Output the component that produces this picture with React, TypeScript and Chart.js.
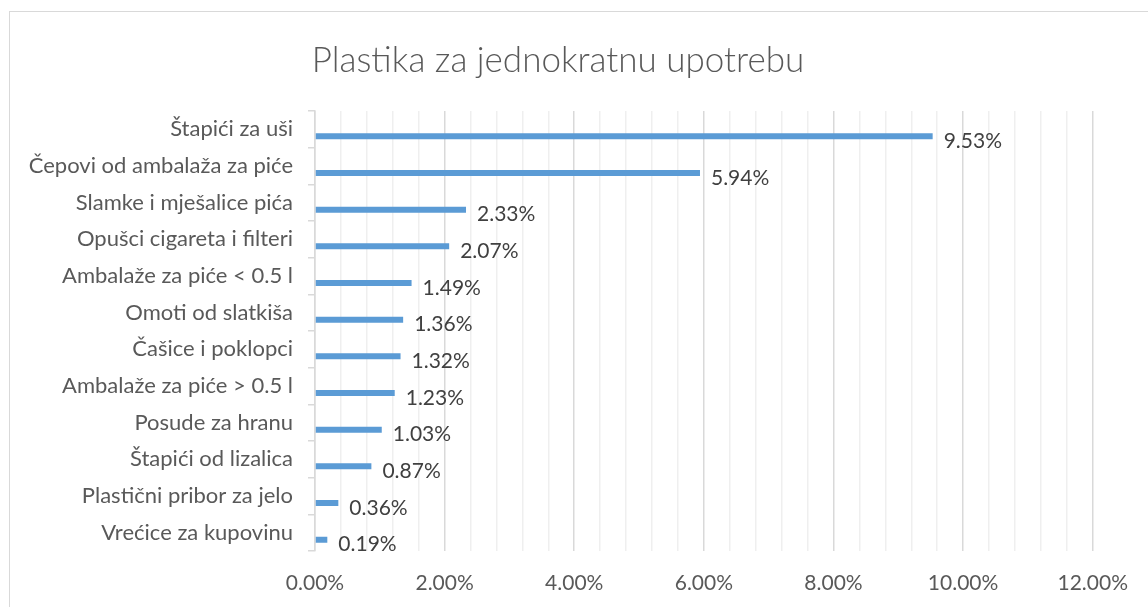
import React, { useEffect, useRef } from 'react';
import { Chart, registerables } from 'chart.js';

Chart.register(...registerables);

const chartTitle = 'Plastika za jednokratnu upotrebu';

const categories = [
  'Štapići za uši',
  'Čepovi od ambalaža za piće',
  'Slamke i mješalice pića',
  'Opušci cigareta i filteri',
  'Ambalaže za piće < 0.5 l',
  'Omoti od slatkiša',
  'Čašice i poklopci',
  'Ambalaže za piće > 0.5 l',
  'Posude za hranu',
  'Štapići od lizalica',
  'Plastični pribor za jelo',
  'Vrećice za kupovinu',
];

const values = [9.53, 5.94, 2.33, 2.07, 1.49, 1.36, 1.32, 1.23, 1.03, 0.87, 0.36, 0.19];

const axisMin = 0;
const axisMax = 12;
const minorStep = 0.4;
const majorStep = 2;

const FONT = 'Lato';
const TEXT = '#595959';
const LABEL = '#404040';

const isMajor = (v: number) => Math.abs(v / majorStep - Math.round(v / majorStep)) < 1e-6;

const dataLabelPlugin = {
  id: 'dataLabelPlugin',
  afterDatasetsDraw(chart: any) {
    const ctx = chart.ctx;
    const meta = chart.getDatasetMeta(1);
    ctx.save();
    ctx.font = `21px ${FONT}`;
    ctx.fillStyle = LABEL;
    ctx.textBaseline = 'middle';
    ctx.textAlign = 'left';
    meta.data.forEach((bar: any, i: number) => {
      const v = values[i];
      ctx.fillText(v.toFixed(2) + '%', bar.x + 11, bar.y + 5);
    });
    ctx.restore();
  },
};

export default function App() {
  const canvasRef = useRef<HTMLCanvasElement | null>(null);

  useEffect(() => {
    if (!canvasRef.current) return;
    const chart = new Chart(canvasRef.current, {
      type: 'bar',
      data: {
        labels: categories,
        datasets: [
          {
            label: '',
            data: categories.map(() => null),
            backgroundColor: 'rgba(0,0,0,0)',
          },
          {
            label: chartTitle,
            data: values,
            backgroundColor: '#5b9bd5',
          },
        ],
      },
      options: {
        indexAxis: 'y',
        responsive: false,
        animation: false,
        datasets: {
          bar: {
            categoryPercentage: 0.76,
            barPercentage: 1,
            maxBarThickness: 6,
          },
        },
        layout: { padding: { left: 20, right: 52, top: 0, bottom: 0 } },
        plugins: {
          legend: { display: false },
          tooltip: { enabled: false },
          title: {
            display: true,
            text: chartTitle,
            color: TEXT,
            font: { family: FONT, size: 35, weight: '300' as any, lineHeight: 1.2 },
            padding: { top: 40, bottom: 29 },
          },
        },
        scales: {
          x: {
            type: 'linear',
            min: axisMin,
            max: axisMax,
            border: { display: false },
            grid: {
              drawTicks: false,
              color: (ctx: any) => (isMajor(ctx.tick.value) ? '#d9d9d9' : '#efefef'),
              lineWidth: 1.5,
            },
            ticks: {
              stepSize: minorStep,
              autoSkip: false,
              maxRotation: 0,
              padding: 20,
              color: TEXT,
              font: { family: FONT, size: 21 },
              callback: (v: any) => (isMajor(Number(v)) ? Number(v).toFixed(2) + '%' : ''),
            },
            afterFit: (s: any) => {
              s.height = 56;
            },
          },
          y: {
            type: 'category',
            offset: true,
            border: { display: true, color: '#d9d9d9', width: 1.5 },
            grid: {
              display: true,
              offset: true,
              drawOnChartArea: false,
              drawTicks: true,
              tickLength: 7,
              color: '#d9d9d9',
              lineWidth: 1.5,
            },
            ticks: {
              autoSkip: false,
              padding: 15,
              color: TEXT,
              font: { family: FONT, size: 22 },
            },
            afterFit: (s: any) => {
              s.width = 295;
            },
          },
        },
      },
      plugins: [dataLabelPlugin],
    });
    return () => chart.destroy();
  }, []);

  return (
    <div
      style={{
        position: 'absolute',
        left: 0,
        top: 0,
        width: 1148,
        height: 607,
        overflow: 'hidden',
        background: '#ffffff',
      }}
    >
      <div
        style={{
          position: 'absolute',
          left: 9,
          top: 11,
          width: 1300,
          height: 800,
          border: '1px solid #d9d9d9',
          boxSizing: 'border-box',
        }}
      />
      <canvas
        ref={canvasRef}
        width={1148}
        height={607}
        style={{ position: 'absolute', left: 0, top: 0, width: 1148, height: 607 }}
      />
    </div>
  );
}
